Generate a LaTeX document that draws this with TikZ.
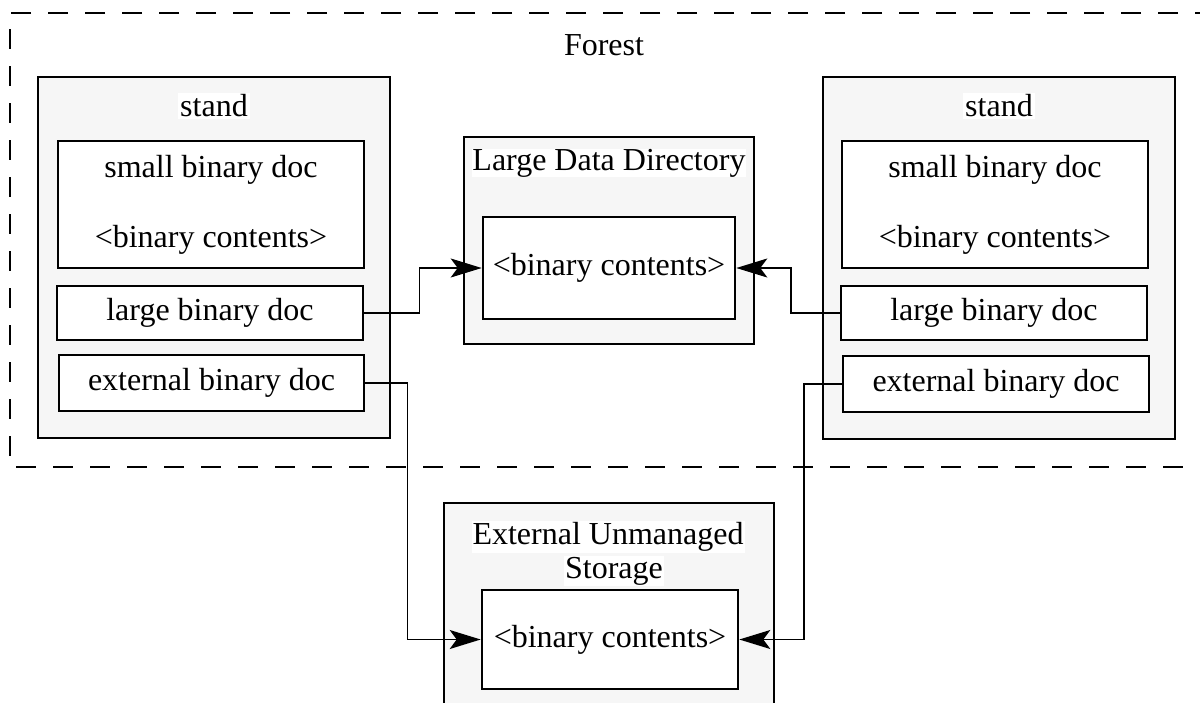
\documentclass[tikz,border=0pt]{standalone}
\usepackage{fontspec}
\setmainfont{Liberation Serif}
\usetikzlibrary{arrows.meta}
\definecolor{boxgray}{HTML}{F6F6F6}
\begin{document}
\begin{tikzpicture}[x=1pt,y=-1pt,
  every node/.style={font=\fontsize{32}{36}\selectfont},
  outerbox/.style={draw, line width=2.6pt, fill=boxgray, inner sep=0pt},
  innerbox/.style={draw, line width=2.6pt, fill=white, inner sep=0pt, align=center},
  lbl/.style={fill=white, inner sep=2pt},
  conn/.style={line width=1.6pt, -{Stealth[length=31pt,width=19pt,inset=7pt]}},
  border/.style={line width=2.4pt, dash pattern=on 20pt off 17pt}]
\useasboundingbox (0,0) rectangle (1200,702);
% forest border
\draw[border] (1215,13) -- (10,13) -- (10,467) -- (1215,467);
\node (forest) at (604,45) {Forest};
% left stand
\node[outerbox, minimum width=352pt, minimum height=361pt] (Lstand) at (214,257.5) {};
\node[lbl] (Lstandlbl) at (214,106) {stand};
\node[innerbox, minimum width=306pt, minimum height=127pt] (Lsmall) at (211,204.5) {small binary doc\\[34pt]<binary contents>};
\node[innerbox, minimum width=306pt, minimum height=54pt] (Llarge) at (210,313) {large binary doc};
\node[innerbox, minimum width=305pt, minimum height=56pt] (Lext) at (211.5,383) {external binary doc};
% right stand
\node[outerbox, minimum width=352pt, minimum height=362pt] (Rstand) at (999,258) {};
\node[lbl] (Rstandlbl) at (999,106) {stand};
\node[innerbox, minimum width=306pt, minimum height=127pt] (Rsmall) at (995,204.5) {small binary doc\\[34pt]<binary contents>};
\node[innerbox, minimum width=306pt, minimum height=54pt] (Rlarge) at (994,313) {large binary doc};
\node[innerbox, minimum width=306pt, minimum height=56pt] (Rext) at (996,384) {external binary doc};
% large data directory
\node[outerbox, minimum width=290pt, minimum height=207pt] (LDD) at (609,240.5) {};
\node[lbl, inner sep=0pt] (LDDlbl) at (609,163) {Large Data Directory};
\node[innerbox, minimum width=252pt, minimum height=102pt] (LDDin) at (609,268) {<binary contents>};
% external unmanaged storage
\node[outerbox, minimum width=330pt, minimum height=240pt] (EUS) at (609,623) {};
\node[lbl, inner sep=1pt] (EUSlbl1) at (608,537) {External Unmanaged};
\node[lbl, inner sep=1pt] (EUSlbl2) at (614,571) {Storage};
\node[innerbox, minimum width=256pt, minimum height=99pt] (EUSin) at (610,639.5) {<binary contents>};
% connectors
\draw[conn] (Llarge.east) -- ++(55,0) |- (LDDin.west);
\draw[conn] (Rlarge.west) -- ++(-49,0) |- (LDDin.east);
\draw[conn] (Lext.east) -- ++(42,0) |- (EUSin.west);
\draw[conn] (Rext.west) -- ++(-38,0) |- (EUSin.east);
\end{tikzpicture}
\end{document}
